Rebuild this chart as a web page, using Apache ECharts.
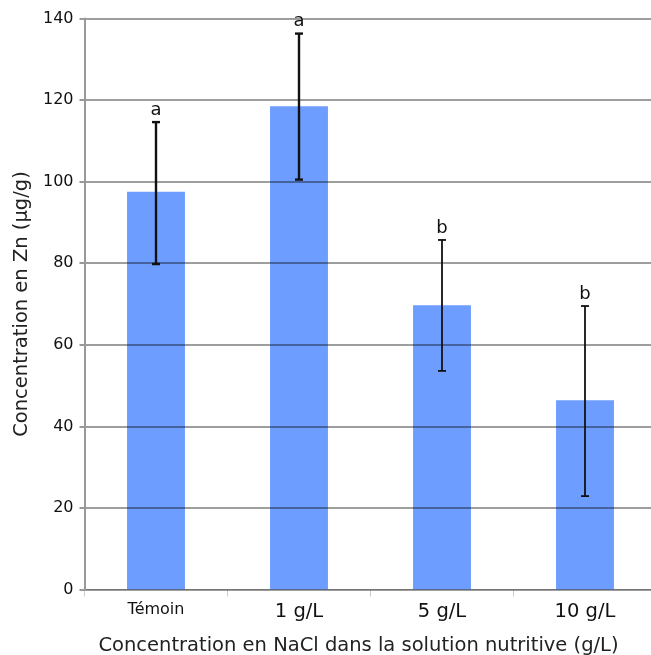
<!DOCTYPE html>
<html><head><meta charset="utf-8">
<script src="https://cdn.jsdelivr.net/npm/echarts@6/dist/echarts.min.js"></script>
<style>html,body{margin:0;padding:0;background:#fff}#c{width:651px;height:655px}</style>
</head><body><div id="c"></div>
<script>
const categories = ['Témoin', '1 g/L', '5 g/L', '10 g/L'];
const means = [97.5, 118.5, 69.7, 46.4];
const errLow = [79.8, 100.5, 53.6, 22.9];
const errHigh = [114.6, 136.3, 85.7, 69.5];
const letters = ['a', 'a', 'b', 'b'];
const yTicks = [0, 20, 40, 60, 80, 100, 120, 140];

const chart = echarts.init(document.getElementById('c'));
const font = 'DejaVu Sans';
chart.setOption({
  animation: false,
  textStyle: { fontFamily: font },
  grid: { left: 84.5, width: 572, top: 18.5, height: 571, containLabel: false, outerBoundsMode: 'none' },
  xAxis: {
    type: 'category',
    data: categories.map((c, i) => ({ value: c, textStyle: { fontSize: i === 0 ? 16 : 19.5 } })),
    name: 'Concentration en NaCl dans la solution nutritive (g/L)',
    nameLocation: 'middle', nameGap: 46,
    nameTextStyle: { fontSize: 19.5, color: '#222', fontFamily: font, padding: [0, 24, 0, 0] },
    axisLine: { lineStyle: { color: '#bbb', width: 1 } },
    axisTick: { show: true, length: 7, lineStyle: { color: '#ccc' } },
    axisLabel: { color: '#111', margin: 12, fontFamily: font }
  },
  yAxis: {
    type: 'value', min: yTicks[0], max: yTicks[yTicks.length - 1], interval: 20,
    z: 3,
    name: 'Concentration en Zn (µg/g)',
    nameLocation: 'middle', nameGap: 52,
    nameTextStyle: { fontSize: 19.5, color: '#222', fontFamily: font },
    axisLine: { show: true, lineStyle: { color: '#999', width: 2 } },
    axisTick: { show: true, length: 5, lineStyle: { color: '#999', width: 2 } },
    axisLabel: { fontSize: 16, color: '#111', margin: 11, fontFamily: font },
    splitLine: { show: true, lineStyle: { color: 'rgba(0,0,0,0.38)', width: 2 } }
  },
  series: [
    {
      type: 'bar', data: means, barWidth: '40.5%', z: 2,
      itemStyle: { color: '#6d9eff' }
    },
    {
      type: 'custom', z: 10,
      data: categories.map((c, i) => [i, errLow[i], errHigh[i], letters[i]]),
      renderItem: function (params, api) {
        const lo = api.coord([api.value(0), api.value(1)]);
        const hi = api.coord([api.value(0), api.value(2)]);
        const idx = params.dataIndex;
        const w = idx < 2 ? 2.4 : 1.8;
        const cap = 4;
        const style = { stroke: '#111', lineWidth: w };
        return {
          type: 'group',
          children: [
            { type: 'line', shape: { x1: hi[0], y1: hi[1], x2: lo[0], y2: lo[1] }, style },
            { type: 'line', shape: { x1: hi[0] - cap, y1: hi[1], x2: hi[0] + cap, y2: hi[1] }, style },
            { type: 'line', shape: { x1: lo[0] - cap, y1: lo[1], x2: lo[0] + cap, y2: lo[1] }, style },
            { type: 'text', style: { text: letters[idx], x: hi[0], y: hi[1] - 3, textAlign: 'center', textVerticalAlign: 'bottom', fontSize: 18, fontFamily: font, fill: '#111' } }
          ]
        };
      }
    }
  ]
});
</script></body></html>
